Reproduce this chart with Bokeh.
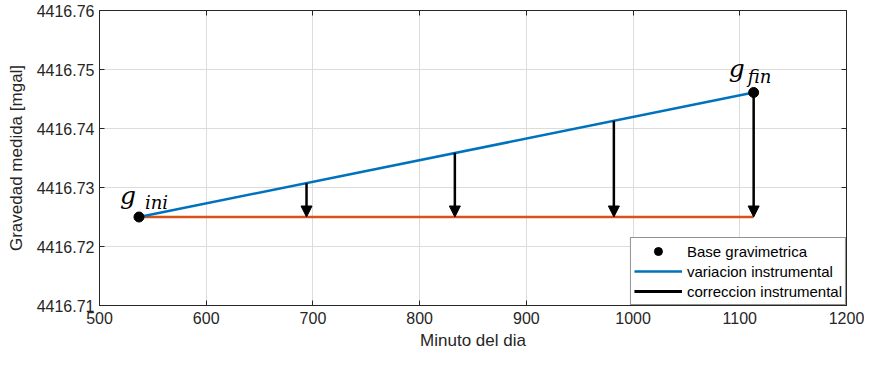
import numpy as np
from bokeh.plotting import figure
from bokeh.models import (ColumnDataSource, Arrow, NormalHead, Label, Legend,
                          LegendItem, FixedTicker, NumeralTickFormatter, Range1d,
                          LinearAxis, CustomJSTickFormatter)
from bokeh.embed import file_html
from bokeh.resources import INLINE

# ---- data ----
base_t = [537, 1113]                      # minuto del dia
base_g = [4416.7250, 4416.7461]           # gravedad medida (mgal)
ref_g = [4416.7250, 4416.7250]            # horizontal reference (g_ini)
corr_t = [694, 833, 982, 1113]
corr_start = [4416.7307, 4416.7359, 4416.7413, 4416.7461]
corr_end = [4416.7250, 4416.7250, 4416.7250, 4416.7250]
x_ticks = [500, 600, 700, 800, 900, 1000, 1100, 1200]
y_ticks = [4416.71, 4416.72, 4416.73, 4416.74, 4416.75, 4416.76]

TXT = "#262626"
FONT = "Liberation Sans"
BLUE = "#0072BD"
ORANGE = "#D95319"

p = figure(width=864, height=352,
           x_range=Range1d(x_ticks[0], x_ticks[-1]),
           y_range=Range1d(y_ticks[0], y_ticks[-1]),
           output_backend="svg", toolbar_location=None,
           min_border_left=99, min_border_right=18,
           min_border_top=10, min_border_bottom=46,
           background_fill_color="white", border_fill_color="white")

p.outline_line_color = TXT
p.outline_line_width = 1

xax = p.below[0]
yax = p.left[0]

# extra axes on top/right for inward ticks only (box style)
blank = CustomJSTickFormatter(code="return ''")
rax = LinearAxis(ticker=FixedTicker(ticks=y_ticks), formatter=blank,
                 major_label_standoff=0, major_label_text_font_size="0px")
tax = LinearAxis(ticker=FixedTicker(ticks=x_ticks), formatter=blank,
                 major_label_standoff=0, major_label_text_font_size="0px")
p.add_layout(rax, "right")
p.add_layout(tax, "above")

for ax in (xax, yax, rax, tax):
    ax.axis_line_color = TXT
    ax.major_tick_line_color = TXT
    ax.major_tick_in = 5
    ax.major_tick_out = 0
    ax.minor_tick_line_color = None

for ax in (xax, yax):
    ax.major_label_text_font = FONT
    ax.major_label_text_font_size = "16px"
    ax.major_label_text_color = TXT
    ax.axis_label_text_font = FONT
    ax.axis_label_text_font_size = "17px"
    ax.axis_label_text_color = TXT
    ax.axis_label_text_font_style = "normal"

xax.ticker = FixedTicker(ticks=x_ticks)
yax.ticker = FixedTicker(ticks=y_ticks)
yax.formatter = NumeralTickFormatter(format="0.00")
xax.axis_label = "Minuto del dia"
yax.axis_label = "Gravedad medida [mgal]"
xax.axis_label_standoff = 4
yax.axis_label_standoff = 8
xax.major_label_standoff = 6

p.grid.grid_line_color = "#dcdcdc"
p.grid.grid_line_width = 1

# lines
orange = p.line(base_t, ref_g, line_color=ORANGE, line_width=2.5)
blue = p.line(base_t, base_g, line_color=BLUE, line_width=2.5)

# arrows
src = ColumnDataSource(dict(x0=corr_t, y0=corr_start, x1=corr_t, y1=corr_end))
p.add_layout(Arrow(source=src, x_start="x0", y_start="y0", x_end="x1", y_end="y1",
                   line_color="black", line_width=2.5,
                   end=NormalHead(size=11, fill_color="black", line_color="black")))

pts = p.scatter(base_t, base_g, marker="circle", size=10,
                fill_color="black", line_color="black")

# hidden renderer used only as the legend key of the arrows
shaft = p.line(x=base_t[:1], y=base_g[:1], line_color="black",
               line_width=3, visible=False)

# g labels
SERIF = "DejaVu Serif"
def glabel(xv, yv, dx, dy, sub, sdx, sdy):
    p.add_layout(Label(x=xv, y=yv, x_offset=dx, y_offset=dy, text="g",
                       text_font=SERIF, text_font_style="italic",
                       text_font_size="25px", text_color="black",
                       text_baseline="alphabetic"))
    p.add_layout(Label(x=xv, y=yv, x_offset=sdx, y_offset=sdy, text=sub,
                       text_font=SERIF, text_font_style="italic",
                       text_font_size="18px", text_color="black",
                       text_baseline="alphabetic"))

glabel(base_t[0], base_g[0], -19, 22, "ini", 6, 15)
glabel(base_t[1], base_g[1], -25, 24, "fin", -6, 16)

legend = Legend(items=[
    LegendItem(label="Base gravimetrica", renderers=[pts]),
    LegendItem(label="variacion instrumental", renderers=[blue]),
    LegendItem(label="correccion instrumental", renderers=[shaft]),
], location="bottom_right")
legend.label_text_font = FONT
legend.label_text_font_size = "15px"
legend.label_text_color = "black"
legend.border_line_color = TXT
legend.border_line_width = 1
legend.background_fill_color = "white"
legend.background_fill_alpha = 1
legend.inactive_fill_alpha = 0
legend.glyph_width = 48
legend.glyph_height = 20
legend.label_height = 20
legend.label_standoff = 5
legend.spacing = 0
legend.padding = 3
legend.margin = 0
p.add_layout(legend)

open("out.html", "w").write(file_html(p, INLINE))
